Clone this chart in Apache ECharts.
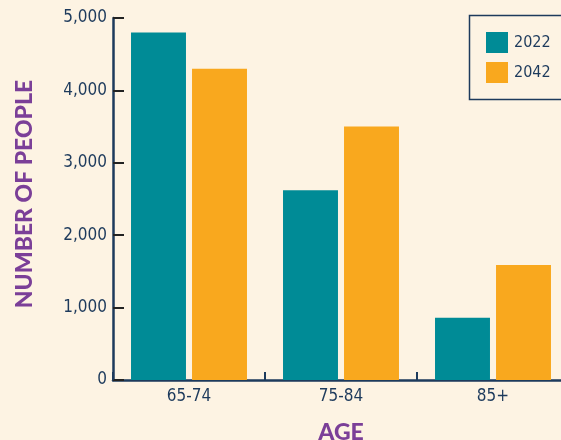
<!DOCTYPE html>
<html><head><meta charset="utf-8">
<script src="https://cdn.jsdelivr.net/npm/echarts@6/dist/echarts.min.js"></script>
<style>html,body{margin:0;padding:0;background:#fdf3e3;}#c{width:561px;height:440px;}</style>
</head><body><div id="c"></div>
<script>
const categories = ['65-74', '75-84', '85+'];
const values2022 = [4800, 2620, 860];
const values2042 = [4300, 3500, 1590];
const yTicks = [0, 1000, 2000, 3000, 4000, 5000];
const seriesNames = ['2022', '2042'];

const FONT = '"DejaVu Sans Condensed", "DejaVu Sans", sans-serif';
const NAVY = '#1d3a5c';
const PURPLE = '#7b3f98';
const chart = echarts.init(document.getElementById('c'), null, {renderer: 'canvas'});
chart.setOption({
  backgroundColor: '#fdf3e3',
  animation: false,
  grid: {left: 113, top: 18, width: 456, height: 362, containLabel: false, outerBoundsMode: 'none'},
  legend: {
    orient: 'vertical', left: 486, top: 32, itemWidth: 22, itemHeight: 21, itemGap: 9, padding: 0,
    icon: 'rect', data: seriesNames,
    textStyle: {fontFamily: FONT, fontSize: 16, color: NAVY, padding: [0, 0, 0, 1]}
  },
  graphic: [
    {type: 'rect', shape: {x: 469.5, y: 15.5, width: 120, height: 84}, style: {fill: 'none', stroke: NAVY, lineWidth: 1.5}},
    {type: 'text', x: 25, y: 194, rotation: Math.PI / 2, style: {text: 'NUMBER OF PEOPLE', fontFamily: 'Lato, sans-serif', fontWeight: 900, fontSize: 23, fill: PURPLE, textAlign: 'center', textVerticalAlign: 'middle'}},
    {type: 'text', x: 341, y: 433, style: {text: 'AGE', fontFamily: 'Lato, sans-serif', fontWeight: 900, fontSize: 23, fill: PURPLE, textAlign: 'center', textVerticalAlign: 'middle'}}
  ],
  xAxis: {
    type: 'category', data: categories,
    axisLine: {lineStyle: {color: NAVY, width: 2.5}},
    axisTick: {show: true, inside: true, length: 8, interval: 0, lineStyle: {color: NAVY, width: 2}},
    axisLabel: {fontFamily: FONT, fontSize: 17, color: NAVY, margin: 8}
  },
  yAxis: {
    type: 'value', min: 0, max: 5000, interval: 1000,
    axisLine: {show: true, lineStyle: {color: NAVY, width: 2.5}},
    axisTick: {show: true, inside: true, length: 11, lineStyle: {color: '#222', width: 2}},
    splitLine: {show: false},
    axisLabel: {fontFamily: FONT, fontSize: 17, color: NAVY, margin: 6,
      formatter: v => yTicks.includes(v) ? v.toLocaleString('en-US') : ''}
  },
  series: [
    {name: seriesNames[0], type: 'bar', data: values2022, itemStyle: {color: '#008b96'}, barGap: '11%', barCategoryGap: '23.7%'},
    {name: seriesNames[1], type: 'bar', data: values2042, itemStyle: {color: '#f9a81e'}, barGap: '11%', barCategoryGap: '23.7%'}
  ]
});
</script></body></html>
